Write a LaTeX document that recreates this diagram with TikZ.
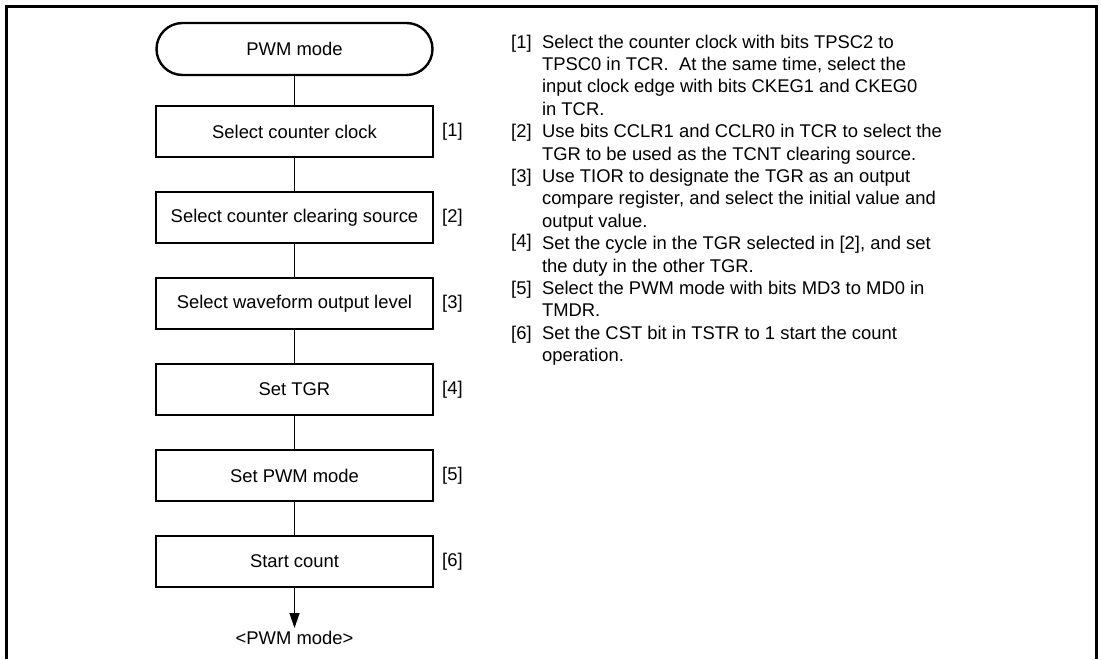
\documentclass[tikz,border=0pt]{standalone}
\usepackage{fontspec}
\setmainfont{Liberation Sans}
\usetikzlibrary{positioning,arrows.meta}
\tikzset{
  stepbox/.style={draw, line width=2.4pt, minimum width=277pt, minimum height=51pt, inner sep=0pt, outer sep=0pt},
  termbox/.style={draw, line width=2.4pt, rounded corners=26pt, minimum width=276pt, minimum height=52pt, inner sep=0pt, outer sep=0pt},
  tag/.style={anchor=west, inner sep=0pt},
  link/.style={line width=1.3pt}
}
\begin{document}
\begin{tikzpicture}[x=1pt, y=-1pt, node distance=35pt, font=\fontsize{18.4}{22.4}\selectfont]
\useasboundingbox (0,0) rectangle (1102,659);
\draw[line width=3pt] (6.5,659) -- (6.5,6.5) -- (1096.5,6.5) -- (1096.5,659);
\node[termbox] (start) at (294.5,49) {PWM mode};
\node[stepbox, below=31pt of start] (s1) {Select counter clock};
\node[stepbox, below=of s1] (s2) {Select counter clearing source};
\node[stepbox, below=of s2] (s3) {Select waveform output level};
\node[stepbox, below=of s3] (s4) {Set TGR};
\node[stepbox, below=of s4] (s5) {Set PWM mode};
\node[stepbox, below=of s5] (s6) {Start count};
\foreach \i in {1,...,6}{
    \node[tag] (t\i) at ([xshift=9pt]s\i.east) {[\i]};
}
\draw[link] (start) -- (s1);
\foreach \a/\b in {s1/s2,s2/s3,s3/s4,s4/s5,s5/s6}{
    \draw[link] (\a) -- (\b);
}
\coordinate (out) at ([yshift=-41pt]s6.south);
\draw[link, -{Triangle[length=15pt,width=10pt]}] (s6) -- (out);
\node[anchor=base, inner sep=0pt] (end) at ([yshift=-16pt]out) {<PWM mode>};
% notes on the right
\node[anchor=base west, inner sep=0pt] (notes) at (511,48) {%
\begin{tabular}[t]{@{}l@{\hspace{10.4pt}}l@{}}
{[1]} & Select the counter clock with bits TPSC2 to\\
    & TPSC0 in TCR.\ \ At the same time, select the\\
    & input clock edge with bits CKEG1 and CKEG0\\
    & in TCR.\\
{[2]} & Use bits CCLR1 and CCLR0 in TCR to select the\\
    & TGR to be used as the TCNT clearing source.\\
{[3]} & Use TIOR to designate the TGR as an output\\
    & compare register, and select the initial value and\\
    & output value.\\
\raisebox{2pt}{[4]} & Set the cycle in the TGR selected in [2], and set\\
    & the duty in the other TGR.\\
{[5]} & Select the PWM mode with bits MD3 to MD0 in\\
    & TMDR.\\
{[6]} & Set the CST bit in TSTR to 1 start the count\\
    & operation.
\end{tabular}};
\end{tikzpicture}
\end{document}
